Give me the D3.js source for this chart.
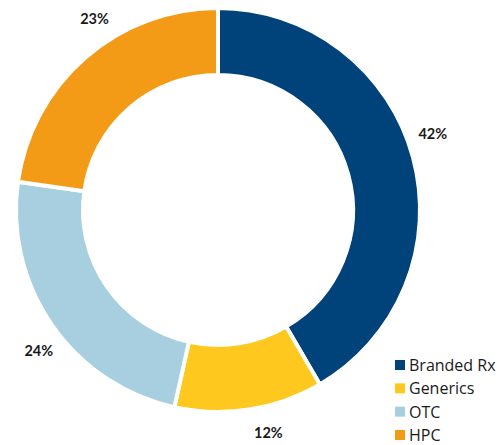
<!DOCTYPE html>
<html>
<head>
<meta charset="utf-8">
<script src="https://cdn.jsdelivr.net/npm/d3@7/dist/d3.min.js"></script>
<style>
  html, body { margin: 0; padding: 0; background: #fff; }
  svg { display: block; }
</style>
</head>
<body>
<svg id="chart" width="504" height="445"></svg>
<script>
// Market share by segment
const categories = ["Branded Rx", "Generics", "OTC", "HPC"];
const shares = [42, 12, 24, 23];
const shareLabels = ["42%", "12%", "24%", "23%"];
const colors = ["#00427a", "#fec81e", "#a7cfdf", "#f39b17"];

// Where each percentage label sits along its slice (fraction of the slice's sweep)
const labelSweep = [0.47, 0.41, 0.46, 0.60];

const svg = d3.select("#chart");
const cx = 218, cy = 210;
const outerR = 202, innerR = 135, labelR = 228;

const pie = d3.pie().sort(null).value(d => d);
const arcs = pie(shares);

const arc = d3.arc().innerRadius(innerR).outerRadius(outerR);

const g = svg.append("g").attr("transform", `translate(${cx},${cy})`);

g.selectAll("path.slice")
  .data(arcs)
  .join("path")
  .attr("class", "slice")
  .attr("d", arc)
  .attr("fill", (d, i) => colors[i])
  .attr("stroke", "#fff")
  .attr("stroke-width", 4)
  .attr("stroke-linejoin", "miter");

g.selectAll("text.pct")
  .data(arcs)
  .join("text")
  .attr("class", "pct")
  .attr("transform", (d, i) => {
    const a = d.startAngle + (d.endAngle - d.startAngle) * labelSweep[i];
    return `translate(${labelR * Math.sin(a)},${-labelR * Math.cos(a)})`;
  })
  .attr("text-anchor", "middle")
  .attr("dominant-baseline", "central")
  .attr("font-family", "Lato, 'Open Sans', sans-serif")
  .attr("font-weight", "bold")
  .attr("font-size", 14.5)
  .attr("fill", "#1a1a1a")
  .text((d, i) => shareLabels[i]);

// Legend
const legend = svg.append("g").attr("transform", "translate(395,365)");
const rowY = d3.scalePoint().domain(categories).range([0, 70]);

const rows = legend.selectAll("g.row")
  .data(categories)
  .join("g")
  .attr("class", "row")
  .attr("transform", d => `translate(0,${rowY(d)})`);

rows.append("rect")
  .attr("x", 0).attr("y", -5)
  .attr("width", 10).attr("height", 10)
  .attr("fill", (d, i) => colors[i]);

rows.append("text")
  .attr("x", 14)
  .attr("y", 0)
  .attr("dominant-baseline", "central")
  .attr("font-family", "'Open Sans', sans-serif")
  .attr("font-size", 16)
  .attr("fill", "#1a1a1a")
  .text(d => d);
</script>
</body>
</html>
